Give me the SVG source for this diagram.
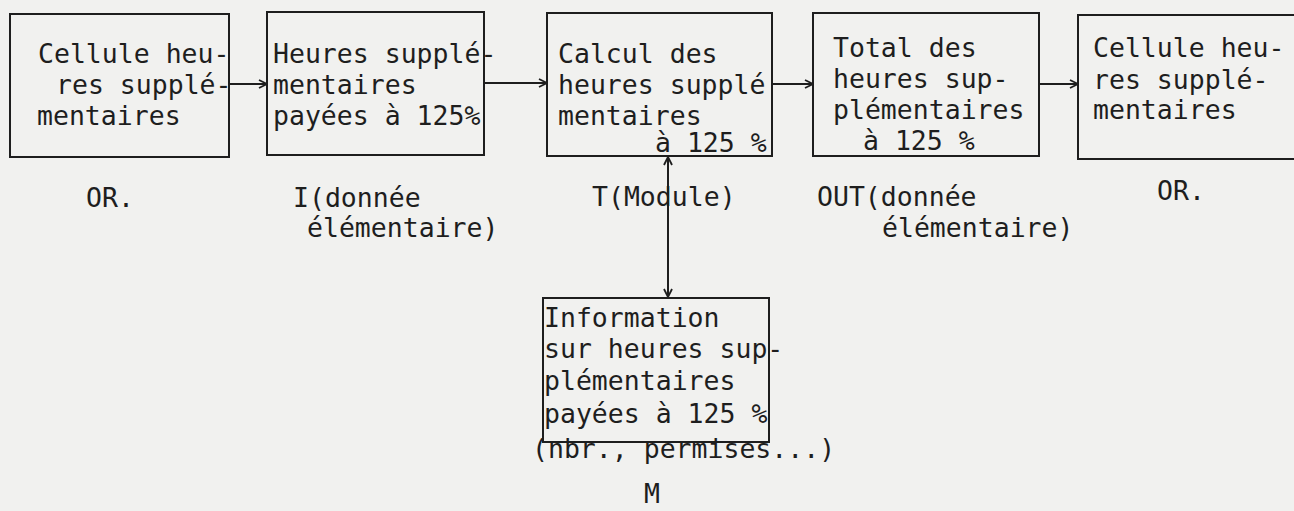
<svg xmlns="http://www.w3.org/2000/svg" width="1294" height="511" viewBox="0 0 1294 511">
<defs>
<marker id="ah" viewBox="0 0 10 10" refX="9" refY="5" markerWidth="10" markerHeight="10" markerUnits="userSpaceOnUse" orient="auto-start-reverse">
<path d="M1,1 L9,5 L1,9" fill="none" stroke="#1e1e1e" stroke-width="1.8"/>
</marker>
<style>
.box{fill:none;stroke:#1e1e1e;stroke-width:2}
.t{font-family:"DejaVu Sans Mono","Liberation Mono",monospace;font-size:26.5px;fill:#1e1e1e}
.c{fill:none;stroke:#1e1e1e;stroke-width:2}
</style>
</defs>
<rect x="0" y="0" width="1294" height="511" fill="#f1f1ef"/>
<g id="n1">
<rect class="box" x="10" y="14" width="219" height="143"/>
<text class="t" x="38" y="63">Cellule heu-</text>
<text class="t" x="56" y="94">res supplé-</text>
<text class="t" x="37" y="125">mentaires</text>
<text class="t" x="86" y="207">OR.</text>
</g>
<g id="n2">
<rect class="box" x="267" y="12" width="217" height="143"/>
<text class="t" x="273" y="63">Heures supplé-</text>
<text class="t" x="273" y="94">mentaires</text>
<text class="t" x="273" y="125">payées à 125%</text>
<text class="t" x="293" y="207">I(donnée</text>
<text class="t" x="307" y="237">élémentaire)</text>
</g>
<g id="n3">
<rect class="box" x="547" y="13" width="225" height="143"/>
<text class="t" x="558" y="63">Calcul des</text>
<text class="t" x="558" y="94">heures supplé</text>
<text class="t" x="558" y="125">mentaires</text>
<text class="t" x="655" y="152">à 125 %</text>
<text class="t" x="592" y="206">T(Module)</text>
</g>
<g id="n4">
<rect class="box" x="813" y="13" width="226" height="143"/>
<text class="t" x="833" y="57">Total des</text>
<text class="t" x="833" y="88">heures sup-</text>
<text class="t" x="833" y="119">plémentaires</text>
<text class="t" x="863" y="150">à 125 %</text>
<text class="t" x="817" y="206">OUT(donnée</text>
<text class="t" x="882" y="237">élémentaire)</text>
</g>
<g id="n5">
<rect class="box" x="1078" y="15" width="230" height="144"/>
<text class="t" x="1093" y="57">Cellule heu-</text>
<text class="t" x="1093" y="89">res supplé-</text>
<text class="t" x="1093" y="119">mentaires</text>
<text class="t" x="1157" y="200">OR.</text>
</g>
<g id="nM">
<rect class="box" x="543" y="298" width="226" height="144"/>
<text class="t" x="544" y="327">Information</text>
<text class="t" x="544" y="358">sur heures sup-</text>
<text class="t" x="544" y="390">plémentaires</text>
<text class="t" x="544" y="423">payées à 125 %</text>
<text class="t" x="532" y="458">(nbr., permises...)</text>
<text class="t" x="644" y="503">M</text>
</g>
<g id="connectors">
<line class="c" x1="229" y1="84" x2="267" y2="84" marker-end="url(#ah)"/>
<line class="c" x1="484" y1="83" x2="547" y2="83" marker-end="url(#ah)"/>
<line class="c" x1="772" y1="84" x2="813" y2="84" marker-end="url(#ah)"/>
<line class="c" x1="1039" y1="84" x2="1078" y2="84" marker-end="url(#ah)"/>
<line class="c" x1="668" y1="157" x2="668" y2="297" marker-start="url(#ah)" marker-end="url(#ah)"/>
</g>
</svg>
